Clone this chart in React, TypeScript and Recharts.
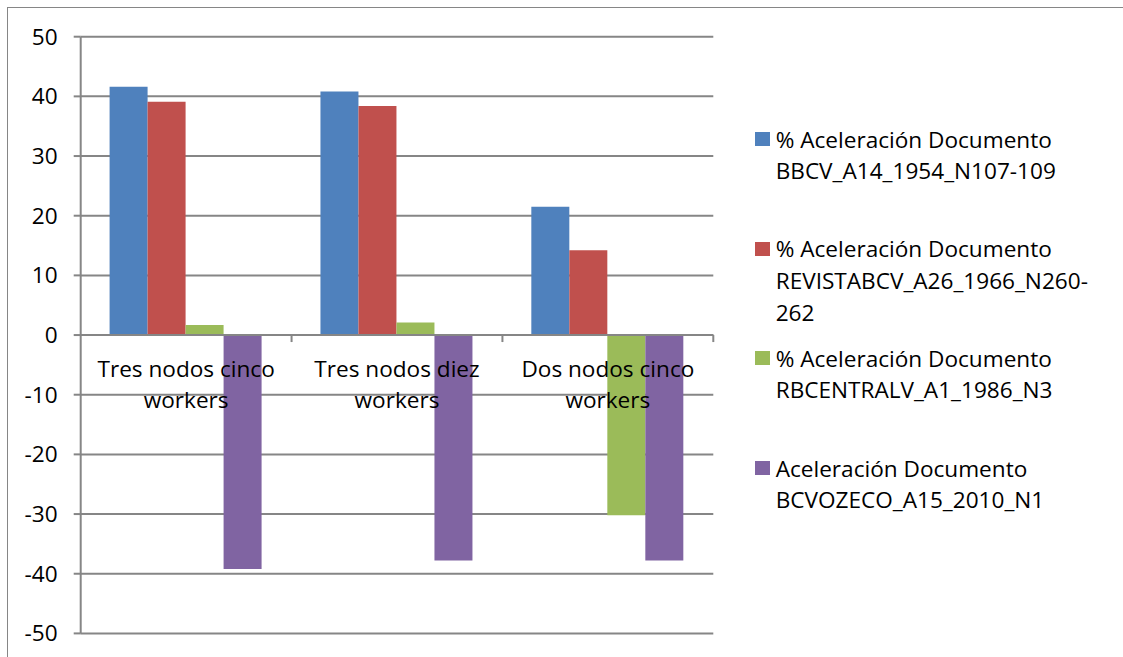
import React from "react";
import { BarChart, Bar, XAxis, YAxis, CartesianGrid, ReferenceLine } from "recharts";

// Categories (x axis) and series values
const categories = [
  "Tres nodos cinco workers",
  "Tres nodos diez workers",
  "Dos nodos cinco workers",
];
const bbcvValues = [41.6, 40.8, 21.5];
const revistaValues = [39.1, 38.4, 14.2];
const rbcentralValues = [1.7, 2.1, -30.2];
const bcvozecoValues = [-39.2, -37.8, -37.8];

const seriesKeys = ["bbcv", "revista", "rbcentral", "bcvozeco"];
const seriesNames = [
  "% Aceleración Documento BBCV_A14_1954_N107-109",
  "% Aceleración Documento REVISTABCV_A26_1966_N260-262",
  "% Aceleración Documento RBCENTRALV_A1_1986_N3",
  "Aceleración Documento BCVOZECO_A15_2010_N1",
];
const legendLines = [
  ["% Aceleración Documento", "BBCV_A14_1954_N107-109"],
  ["% Aceleración Documento", "REVISTABCV_A26_1966_N260-", "262"],
  ["% Aceleración Documento", "RBCENTRALV_A1_1986_N3"],
  ["Aceleración Documento", "BCVOZECO_A15_2010_N1"],
];
const seriesColors = ["#4F81BD", "#C0504D", "#9BBB59", "#8064A2"];
const yTicks = [50, 40, 30, 20, 10, 0, -10, -20, -30, -40, -50];

const data = categories.map((name, i) => ({
  name,
  bbcv: bbcvValues[i],
  revista: revistaValues[i],
  rbcentral: rbcentralValues[i],
  bcvozeco: bcvozecoValues[i],
}));

// Layout
const FONT = "'Open Sans', sans-serif";
const FONT_SIZE = 22.6;
const AXIS_GRAY = "#868686";
const CHART_W = 720;
const CHART_H = 640;
const X_AXIS_H = 14.6;
const MARGIN = { top: 28.7, right: 14.7, bottom: 0, left: 0 };
const Y_AXIS_W = 72.7;
const Y_MIN = -50;
const Y_MAX = 50;
const PLOT_H = CHART_H - MARGIN.top - MARGIN.bottom - X_AXIS_H;
const PLOT_W = CHART_W - MARGIN.left - MARGIN.right - Y_AXIS_W;
const ZERO_Y = MARGIN.top + (PLOT_H * (Y_MAX - 0)) / (Y_MAX - Y_MIN);
const BAND = PLOT_W / categories.length;

// Category labels sit under the zero line, wrapped onto two lines
const CategoryTick = (props: any) => {
  const { x, index, payload } = props;
  const words = String(payload.value).split(" ");
  const last = words.pop();
  const first = words.join(" ");
  const marks: React.ReactNode[] = [];
  if (index > 0) {
    marks.push(
      <line key="l" x1={x - BAND / 2} x2={x - BAND / 2} y1={ZERO_Y} y2={ZERO_Y + 7} stroke={AXIS_GRAY} strokeWidth={2} />
    );
  }
  if (index === categories.length - 1) {
    marks.push(
      <line key="r" x1={x + BAND / 2} x2={x + BAND / 2} y1={ZERO_Y} y2={ZERO_Y + 7} stroke={AXIS_GRAY} strokeWidth={2} />
    );
  }
  return (
    <g>
      {marks}
      <text x={x} y={ZERO_Y + 41.7} textAnchor="middle" fontFamily={FONT} fontSize={FONT_SIZE} fill="#000">
        <tspan x={x}>{first}</tspan>
        <tspan x={x} dy={31.6}>{last}</tspan>
      </text>
    </g>
  );
};

const legendTops = [115.5, 225.2, 334.5, 444.5];

export default function App() {
  return (
    <div
      style={{
        position: "fixed",
        left: 7,
        top: 7,
        width: 1300,
        height: 800,
        border: `1px solid ${AXIS_GRAY}`,
        background: "#fff",
      }}
    >
      <div style={{ position: "absolute", left: 0, top: 0 }}>
        <BarChart
          width={CHART_W}
          height={CHART_H}
          data={data}
          margin={MARGIN}
          barCategoryGap="13.7%"
          barGap={0}
        >
          <CartesianGrid vertical={false} stroke={AXIS_GRAY} strokeWidth={2} />
          <YAxis
            type="number"
            domain={[Y_MIN, Y_MAX]}
            ticks={yTicks}
            interval={0}
            width={Y_AXIS_W}
            axisLine={{ stroke: AXIS_GRAY, strokeWidth: 2 }}
            tickLine={{ stroke: AXIS_GRAY, strokeWidth: 2 }}
            tickSize={7}
            tickMargin={16}
            tick={{ fill: "#000", fontFamily: FONT, fontSize: FONT_SIZE }}
          />
          {seriesKeys.map((k, i) => (
            <Bar
              key={k}
              dataKey={k}
              name={seriesNames[i]}
              fill={seriesColors[i]}
              isAnimationActive={false}
            />
          ))}
          <ReferenceLine y={0} stroke={AXIS_GRAY} strokeWidth={2} />
          <XAxis
            dataKey="name"
            height={X_AXIS_H}
            axisLine={false}
            tickLine={false}
            interval={0}
            tick={<CategoryTick />}
          />
        </BarChart>
      </div>
      {legendLines.map((lines, i) => (
        <div
          key={seriesKeys[i]}
          style={{
            position: "absolute",
            left: 747,
            top: legendTops[i],
            fontFamily: FONT,
            fontSize: FONT_SIZE,
            lineHeight: "31.7px",
            color: "#000",
            whiteSpace: "nowrap",
          }}
        >
          <div
            style={{
              position: "absolute",
              left: 0,
              top: 8.8,
              width: 15,
              height: 14,
              background: seriesColors[i],
            }}
          />
          <div style={{ marginLeft: 20.7 }}>
            {lines.map((t, j) => (
              <div key={j}>{t}</div>
            ))}
          </div>
        </div>
      ))}
    </div>
  );
}
